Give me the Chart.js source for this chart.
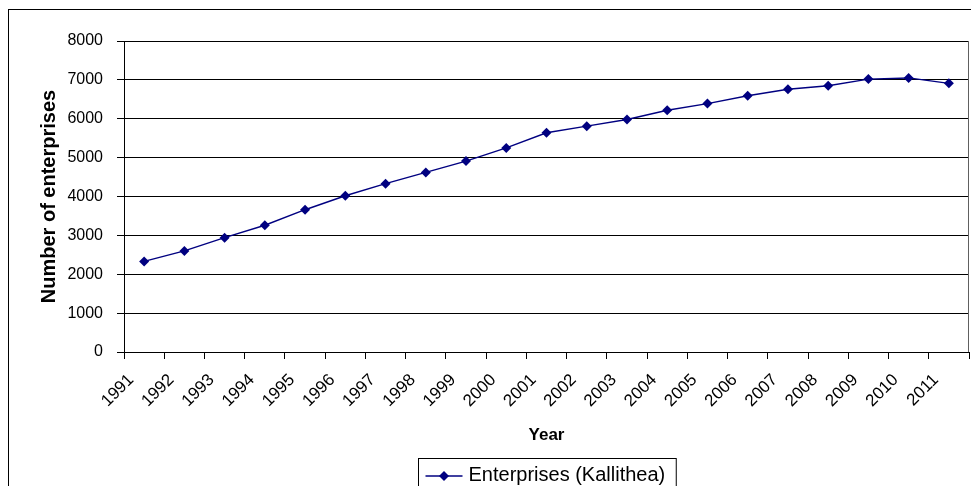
<!DOCTYPE html>
<html>
<head>
<meta charset="utf-8">
<title>Enterprises (Kallithea)</title>
<script src="https://cdn.jsdelivr.net/npm/chart.js@4/dist/chart.umd.min.js"></script>
<style>
  html, body { margin: 0; padding: 0; background: #ffffff; }
  #wrap { position: relative; width: 971px; height: 486px; }
  canvas { display: block; }
</style>
</head>
<body>
<div id="wrap"><canvas id="chart" width="971" height="486"></canvas></div>
<script>
// Registered enterprises per year
const years = ['1991','1992','1993','1994','1995','1996','1997','1998','1999','2000','2001',
               '2002','2003','2004','2005','2006','2007','2008','2009','2010','2011'];
const enterprises = [2330, 2600, 2940, 3260, 3660, 4020, 4330, 4620, 4910, 5250, 5640,
                     5810, 5980, 6220, 6390, 6590, 6760, 6850, 7020, 7050, 6910];
const seriesLabel = 'Enterprises (Kallithea)';
const yTitle = 'Number of enterprises';
const xTitle = 'Year';

const FONT = '"Liberation Sans", Arial, Helvetica, sans-serif';
const NAVY = '#000080';

// Frame around the whole chart, right edge of the plot and a boxed legend
const framePlugin = {
  id: 'frame',
  afterDraw(chart) {
    const ctx = chart.ctx;
    const a = chart.chartArea;
    ctx.save();
    // outer chart border
    ctx.strokeStyle = '#000000';
    ctx.lineWidth = 1;
    ctx.strokeRect(8.5, 9.5, 990, 520);
    // plot area right edge
    ctx.strokeStyle = '#606060';
    ctx.beginPath();
    ctx.moveTo(Math.round(a.right) - 0.5, a.top);
    ctx.lineTo(Math.round(a.right) - 0.5, a.bottom);
    ctx.stroke();

    // legend
    const ds = chart.data.datasets[0];
    ctx.font = '20px ' + FONT;
    const tw = ctx.measureText(ds.label).width;
    const symW = 37, gap = 6, padL = 7, padR = 11;
    const boxW = padL + symW + gap + tw + padR;
    const cx = (a.left + a.right) / 2;
    const bx = Math.round(cx - boxW / 2) + 0.5;
    const by = 458.5;
    ctx.strokeStyle = '#000000';
    ctx.lineWidth = 1;
    ctx.strokeRect(bx, by, boxW, 60);
    const ly = 476;
    const sx = bx + padL;
    ctx.strokeStyle = ds.borderColor;
    ctx.lineWidth = ds.borderWidth;
    ctx.beginPath();
    ctx.moveTo(sx, ly);
    ctx.lineTo(sx + symW, ly);
    ctx.stroke();
    const r = ds.pointRadius;
    const mx = sx + symW / 2;
    ctx.fillStyle = ds.pointBackgroundColor;
    ctx.beginPath();
    ctx.moveTo(mx, ly - r);
    ctx.lineTo(mx + r, ly);
    ctx.lineTo(mx, ly + r);
    ctx.lineTo(mx - r, ly);
    ctx.closePath();
    ctx.fill();
    ctx.fillStyle = '#000000';
    ctx.textAlign = 'left';
    ctx.textBaseline = 'alphabetic';
    ctx.fillText(ds.label, sx + symW + gap, 481);
    ctx.restore();
  }
};

const bgPlugin = {
  id: 'bg',
  beforeDraw(chart) {
    const ctx = chart.ctx;
    ctx.save();
    ctx.fillStyle = '#ffffff';
    ctx.fillRect(0, 0, chart.width, chart.height);
    ctx.restore();
  }
};

new Chart(document.getElementById('chart'), {
  type: 'line',
  data: {
    labels: years,
    datasets: [{
      label: seriesLabel,
      data: enterprises,
      borderColor: NAVY,
      backgroundColor: NAVY,
      pointBackgroundColor: NAVY,
      pointBorderColor: NAVY,
      borderWidth: 1.4,
      pointStyle: 'rectRot',
      pointRadius: 5,
      pointBorderWidth: 0,
      pointHoverRadius: 5,
      tension: 0,
      fill: false
    }]
  },
  options: {
    responsive: false,
    animation: false,
    events: [],
    layout: { autoPadding: false, padding: { top: 41, right: 2, left: 0, bottom: 0 } },
    plugins: {
      legend: { display: false },
      tooltip: { enabled: false }
    },
    scales: {
      x: {
        type: 'category',
        offset: true,
        afterFit(scale) {
          scale.height = 134;
          scale.paddingLeft = 0;
          scale.paddingRight = 0;
        },
        grid: {
          offset: true,
          drawOnChartArea: false,
          drawTicks: true,
          tickLength: 7,
          color: '#000000',
          lineWidth: 1
        },
        border: { display: true, color: '#000000', width: 1 },
        ticks: {
          autoSkip: false,
          maxRotation: 45,
          minRotation: 45,
          padding: 11,
          labelOffset: -13,
          color: '#000000',
          font: { family: FONT, size: 17 }
        },
        title: {
          display: true,
          text: xTitle,
          color: '#000000',
          font: { family: FONT, size: 17, weight: 'bold' },
          padding: { top: 0, bottom: 40.5 }
        }
      },
      y: {
        min: 0,
        max: 8000,
        afterFit(scale) { scale.width = 124; },
        grid: {
          drawTicks: true,
          tickLength: 7,
          color: '#000000',
          lineWidth: 1
        },
        border: { display: true, color: '#000000', width: 1 },
        ticks: {
          stepSize: 1000,
          padding: 14,
          color: '#000000',
          font: { family: FONT, size: 16 },
          callback: (v) => String(v)
        },
        title: {
          display: true,
          text: yTitle,
          color: '#000000',
          font: { family: FONT, size: 20, weight: 'bold' },
          padding: { top: 37, bottom: 0 }
        }
      }
    }
  },
  plugins: [bgPlugin, framePlugin]
});
</script>
</body>
</html>
